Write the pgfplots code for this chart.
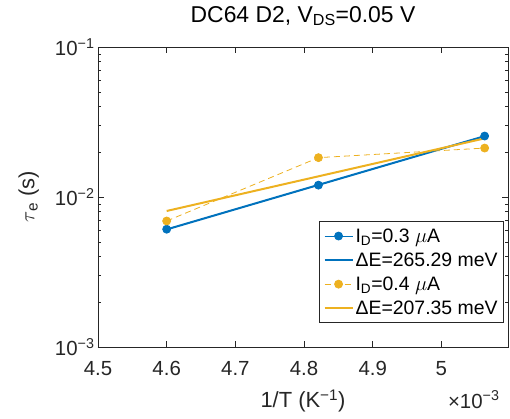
\documentclass[border=0pt]{standalone}
\usepackage{pgfplots}
\pgfplotsset{compat=1.18}
\usepackage{fontspec}
\setmainfont{Liberation Sans}
\definecolor{mblue}{rgb}{0,0.447,0.741}
\definecolor{myellow}{rgb}{0.929,0.694,0.125}
\definecolor{axgray}{rgb}{0.15,0.15,0.15}
\begin{document}
\begin{tikzpicture}
\begin{axis}[
  scale only axis, width=410bp, height=300bp,
  xmin=4.5, xmax=5.097, ymin=1e-3, ymax=1e-1,
  ymode=log,
  xtick={4.5,4.6,4.7,4.8,4.9,5.0},
  xticklabels={4.5,4.6,4.7,4.8,4.9,5},
  ytick={1e-3,1e-2,1e-1},
  yticklabels={10\textsuperscript{−3},10\textsuperscript{−2},10\textsuperscript{−1}},
  tick align=inside,
  axis line style={axgray, line width=0.75bp},
  every tick/.style={axgray, line width=0.6bp},
  major tick length=6bp, minor tick length=3.5bp,
  tick label style={font=\fontsize{20.5}{23}\selectfont, text=axgray},
  /pgf/number format/assume math mode=true,
  xticklabel style={anchor=base, yshift=-28bp},
  title={DC64 D2, V\textsubscript{DS}=0.05 V},
  title style={at={(axis description cs:0.5,1.0633)}, anchor=base, font=\fontsize{23}{26}\selectfont, text=black},
  xlabel={1/T (K\textsuperscript{−1})},
  xlabel style={at={(axis description cs:0.5,-0.2033)}, anchor=base, font=\fontsize{22}{25}\selectfont, text=axgray},
  ylabel={$\tau$\textsubscript{e} (s)},
  ylabel style={at={(axis description cs:-0.155,0.5)}, anchor=base, font=\fontsize{22}{25}\selectfont, text=axgray},
  legend style={at={(0.99,0.08)}, anchor=south east, font=\fontsize{19.5}{22}\selectfont, draw=axgray, line width=0.6bp, row sep=5bp, inner xsep=4bp, inner ysep=5bp, text=black},
  legend cell align=left,
  legend image code/.code={\draw[mark repeat=2,mark phase=2] plot coordinates {(0bp,0bp) (14bp,0bp) (28bp,0bp)};},
]
\addplot[mblue, line width=0.8bp, mark=*, mark size=4bp, mark options={solid}] coordinates {(4.6,0.0061) (4.821,0.0120) (5.063,0.0255)};
\addlegendentry{I\textsubscript{D}=0.3 $\mu$A}
\addplot[mblue, line width=2bp] coordinates {(4.6,0.00608) (5.063,0.02545)};
\addlegendentry{ΔE=265.29 meV}
\addplot[myellow, line width=0.8bp, dash pattern=on 6bp off 4bp, mark=*, mark size=4bp, mark options={solid}] coordinates {(4.6,0.00692) (4.821,0.0183) (5.063,0.0212)};
\addlegendentry{I\textsubscript{D}=0.4 $\mu$A}
\addplot[myellow, line width=2bp] coordinates {(4.6,0.00807) (5.063,0.0246)};
\addlegendentry{ΔE=207.35 meV}
\end{axis}
\node[anchor=base east, font=\fontsize{20.5}{23}\selectfont, text=axgray] at ([xshift=-5bp,yshift=-61bp]current axis.south east) {×10\textsuperscript{−3}};
\pgfresetboundingbox
\path (current axis.south west) +(-98bp,-72bp) (current axis.north east) +(2bp,47bp);
\end{tikzpicture}
\end{document}
